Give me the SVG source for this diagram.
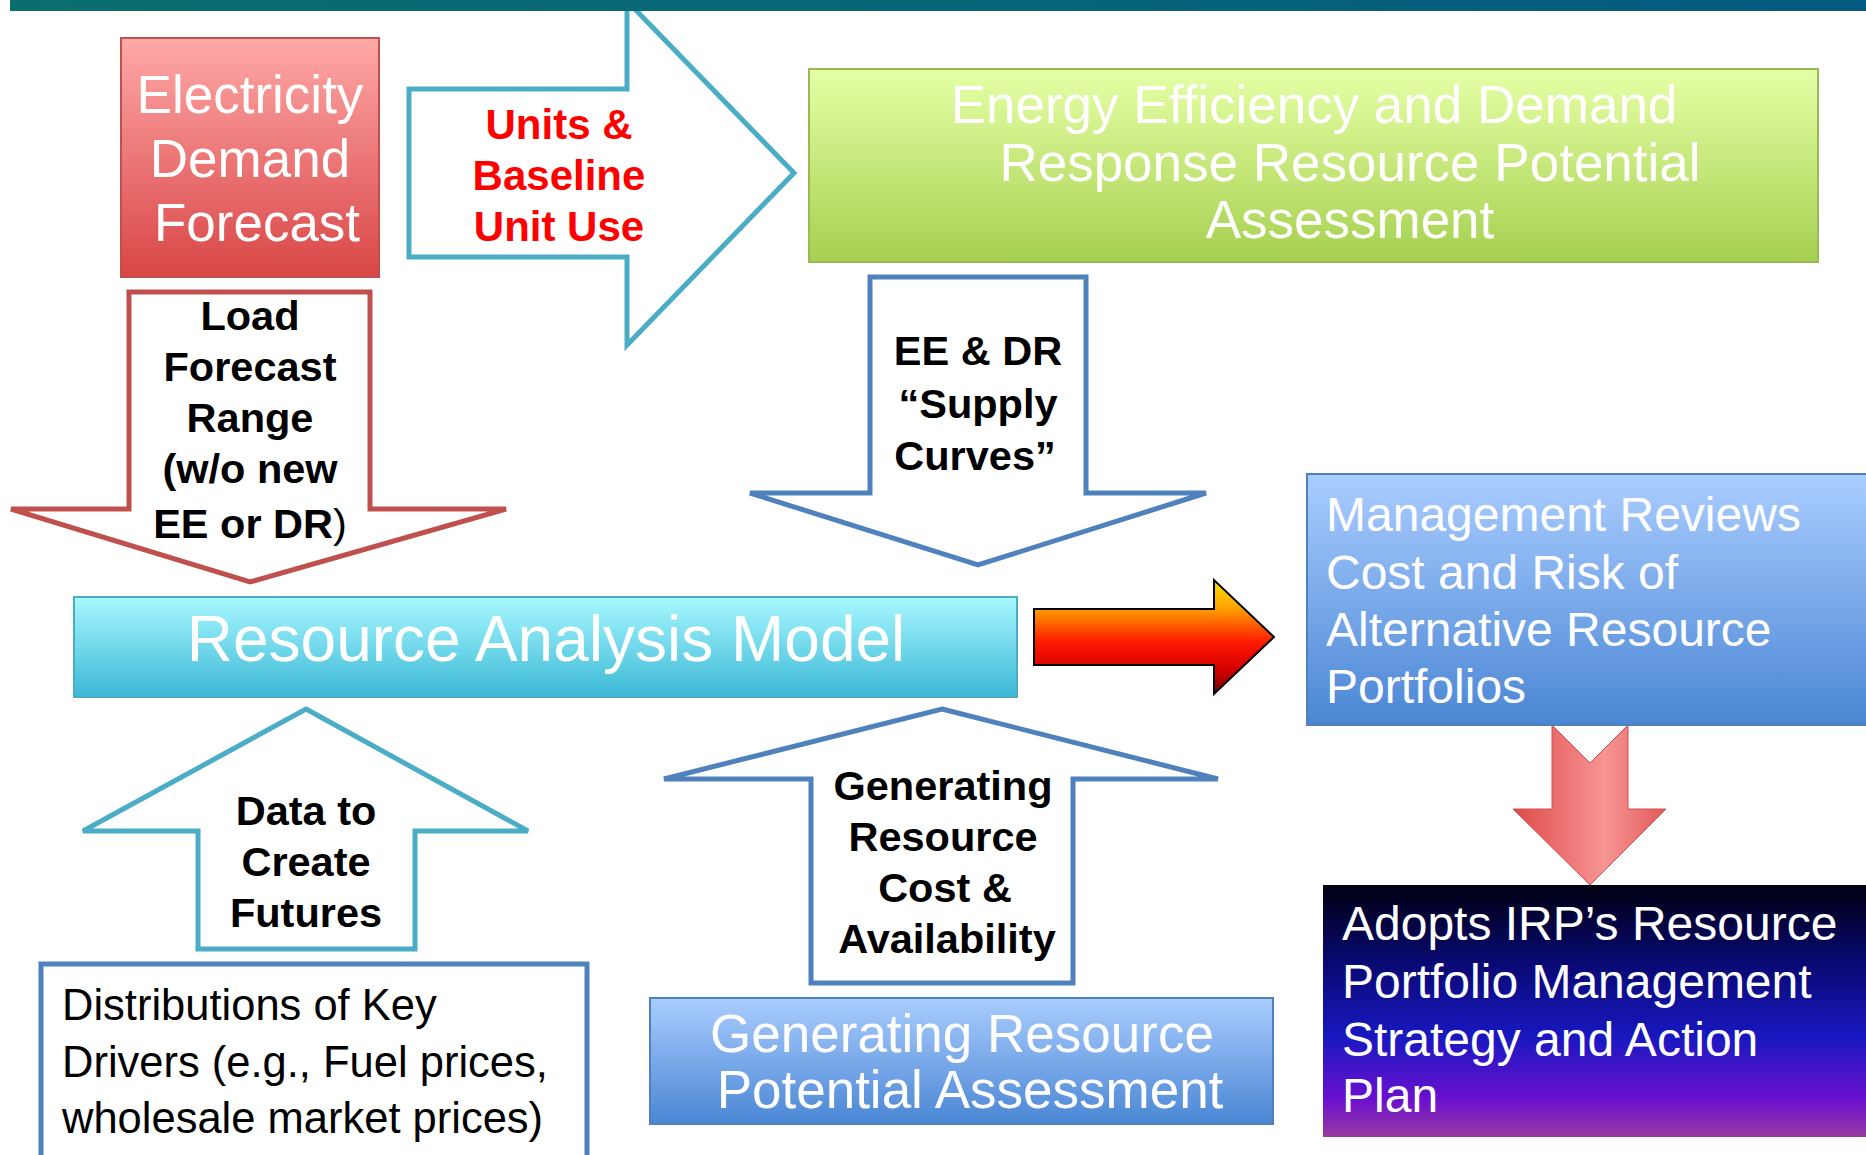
<svg xmlns="http://www.w3.org/2000/svg" width="1866" height="1155" viewBox="0 0 1866 1155">
<defs>
<linearGradient id="gBar" x1="0" y1="0" x2="1" y2="0"><stop offset="0" stop-color="#0b6e6e"/><stop offset="1" stop-color="#035a80"/></linearGradient>
<linearGradient id="gRed" x1="0" y1="0" x2="0" y2="1"><stop offset="0" stop-color="#ffa8a8"/><stop offset="1" stop-color="#d94646"/></linearGradient>
<linearGradient id="gGreen" x1="0" y1="0" x2="0" y2="1"><stop offset="0" stop-color="#e6ffa6"/><stop offset="1" stop-color="#a6d050"/></linearGradient>
<linearGradient id="gCyan" x1="0" y1="0" x2="0" y2="1"><stop offset="0" stop-color="#a8f8ff"/><stop offset="1" stop-color="#3cb8d6"/></linearGradient>
<linearGradient id="gBlue" x1="0" y1="0" x2="0" y2="1"><stop offset="0" stop-color="#aacdff"/><stop offset="1" stop-color="#4a86d4"/></linearGradient>
<linearGradient id="gDark" x1="0" y1="0" x2="0" y2="1"><stop offset="0" stop-color="#000010"/><stop offset="0.3" stop-color="#080870"/><stop offset="0.6" stop-color="#1818c0"/><stop offset="0.85" stop-color="#6a10d0"/><stop offset="1" stop-color="#9a3aa0"/></linearGradient>
<linearGradient id="gFire" gradientUnits="userSpaceOnUse" x1="0" y1="580" x2="0" y2="694"><stop offset="0" stop-color="#ffe000"/><stop offset="0.25" stop-color="#ffa000"/><stop offset="0.55" stop-color="#ff1800"/><stop offset="0.8" stop-color="#d00000"/><stop offset="1" stop-color="#700000"/></linearGradient>
<linearGradient id="gPink" x1="0" y1="0" x2="1" y2="0"><stop offset="0" stop-color="#e04a4a"/><stop offset="0.6" stop-color="#f79494"/><stop offset="1" stop-color="#e25a5a"/></linearGradient>
</defs>
<style>
.box{stroke-width:2}
.wt{fill:#ffffff;font-family:"Liberation Sans",Arial,sans-serif}
.bk{fill:#000000;font-family:"Liberation Sans",Arial,sans-serif;font-weight:bold;font-size:41.5px;text-anchor:middle}
.rd{fill:#ff0000;font-family:"Liberation Sans",Arial,sans-serif;font-weight:bold;font-size:42px;text-anchor:middle}
.arr{fill:#ffffff;stroke-width:5;stroke-linejoin:miter}
</style>
<rect width="1866" height="1155" fill="#ffffff"/>

<g id="connectors">
<polygon id="arrow-units" class="arr" stroke="#4bacc6" points="409,89 627,89 627,1 794,173 627,345 627,257 409,257"/>
<polygon id="arrow-load" class="arr" stroke="#c0504d" points="129,292 370,292 370,509 506,509 250,582 11,509 129,509"/>
<polygon id="arrow-ee" class="arr" stroke="#4f81bd" points="870,277 1086,277 1086,493 1206,493 978,565 750,493 870,493"/>
<polygon id="arrow-data" class="arr" stroke="#4bacc6" points="306,709 528,831 415,831 415,949 198,949 198,831 83,831"/>
<polygon id="arrow-gen" class="arr" stroke="#4f81bd" points="942,709 1218,779 1073,779 1073,983 811,983 811,779 664,779"/>
<polygon id="arrow-fire" fill="url(#gFire)" stroke="#000000" stroke-width="2" points="1034,609 1214,609 1214,580 1274,637 1214,694 1214,665 1034,665"/>
<polygon id="arrow-pink" fill="url(#gPink)" stroke="#d05050" stroke-width="1" points="1552,725 1590,763 1628,725 1628,809 1666,809 1590,885 1513,809 1552,809"/>
<text class="rd" x="559" y="139">Units &amp;</text>
<text class="rd" x="559" y="190">Baseline</text>
<text class="rd" x="559" y="241">Unit Use</text>
<text class="bk" x="250" y="330">Load</text>
<text class="bk" x="250" y="381">Forecast</text>
<text class="bk" x="250" y="432">Range</text>
<text class="bk" x="250" y="483">(w/o new</text>
<text class="bk" x="250" y="538">EE or DR<tspan font-weight="normal">)</tspan></text>
<text class="bk" x="978" y="365">EE &amp; DR</text>
<text class="bk" x="978" y="418">“Supply</text>
<text class="bk" x="975" y="470">Curves”</text>
<text class="bk" x="306" y="825">Data to</text>
<text class="bk" x="306" y="876">Create</text>
<text class="bk" x="306" y="927">Futures</text>
<text class="bk" x="943" y="800">Generating</text>
<text class="bk" x="943" y="851">Resource</text>
<text class="bk" x="945" y="902">Cost &amp;</text>
<text class="bk" x="947" y="953">Availability</text>
</g>

<rect id="topbar" x="10" y="0" width="1856" height="11" fill="url(#gBar)"/>

<g id="node-demand">
<rect class="box" x="121" y="38" width="258" height="239" fill="url(#gRed)" stroke="#c0504d"/>
<g class="wt" font-size="53" text-anchor="middle">
<text x="250" y="113">Electricity</text>
<text x="250" y="177">Demand</text>
<text x="257" y="241">Forecast</text>
</g>
</g>

<g id="node-eedr">
<rect class="box" x="809" y="69" width="1009" height="193" fill="url(#gGreen)" stroke="#98b954"/>
<g class="wt" font-size="53" text-anchor="middle">
<text x="1314" y="123">Energy Efficiency and Demand</text>
<text x="1350" y="181">Response Resource Potential</text>
<text x="1350" y="238">Assessment</text>
</g>
</g>

<g id="node-ram">
<rect class="box" x="74" y="597" width="943" height="100" fill="url(#gCyan)" stroke="#4bacc6"/>
<text class="wt" x="546" y="661" font-size="64" text-anchor="middle">Resource Analysis Model</text>
</g>

<g id="node-mgmt">
<rect class="box" x="1307" y="474" width="560" height="251" fill="url(#gBlue)" stroke="#4f81bd"/>
<g class="wt" font-size="48">
<text x="1326" y="531">Management Reviews</text>
<text x="1326" y="589">Cost and Risk of</text>
<text x="1326" y="646">Alternative Resource</text>
<text x="1326" y="703">Portfolios</text>
</g>
</g>

<g id="node-adopt">
<rect x="1323" y="885" width="543" height="252" fill="url(#gDark)"/>
<g class="wt" font-size="48">
<text x="1342" y="940">Adopts IRP’s Resource</text>
<text x="1342" y="998">Portfolio Management</text>
<text x="1342" y="1056">Strategy and Action</text>
<text x="1342" y="1112">Plan</text>
</g>
</g>

<g id="node-dist">
<rect x="41" y="964" width="546" height="200" fill="#ffffff" stroke="#4f81bd" stroke-width="5"/>
<g font-family="'Liberation Sans',Arial,sans-serif" font-size="43.5" fill="#000000">
<text x="62" y="1020">Distributions of Key</text>
<text x="62" y="1077">Drivers (e.g., Fuel prices,</text>
<text x="62" y="1133">wholesale market prices)</text>
</g>
</g>

<g id="node-genpot">
<rect class="box" x="650" y="998" width="623" height="126" fill="url(#gBlue)" stroke="#4f81bd"/>
<g class="wt" font-size="53" text-anchor="middle">
<text x="962" y="1052">Generating Resource</text>
<text x="970" y="1108">Potential Assessment</text>
</g>
</g>
</svg>
